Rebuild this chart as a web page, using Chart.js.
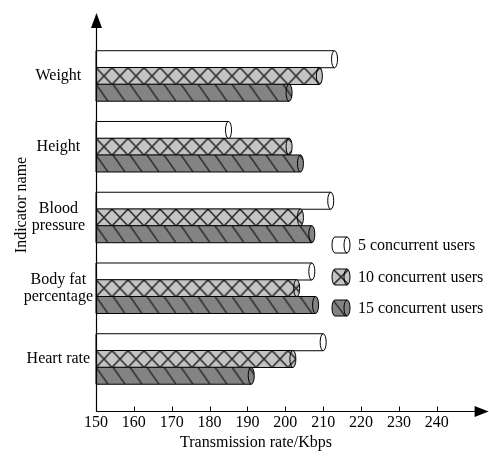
<!DOCTYPE html>
<html>
<head>
<meta charset="utf-8">
<script src="https://cdn.jsdelivr.net/npm/chart.js@4/dist/chart.umd.min.js"></script>
<style>
  html, body { margin: 0; padding: 0; background: #fff; }
</style>
</head>
<body>
<canvas id="chart" width="489" height="459"></canvas>
<script>
const categories = ["Weight", "Height", "Blood pressure", "Body fat percentage", "Heart rate"];
const categoryLines = [["Weight"], ["Height"], ["Blood", "pressure"], ["Body fat", "percentage"], ["Heart rate"]];
const users5 = [213, 185, 212, 207, 210];
const users10 = [209, 201, 204, 203, 202];
const users15 = [201, 204, 207, 208, 191];
const seriesNames = ["5 concurrent users", "10 concurrent users", "15 concurrent users"];
const xTicks = [150, 160, 170, 180, 190, 200, 210, 220, 230, 240];
const xTitle = "Transmission rate/Kbps";
const yTitle = "Indicator name";

const FONT = "'Liberation Serif', 'Times New Roman', serif";

function tile(w, h, bg, lines) {
    const c = document.createElement("canvas");
    c.width = w;
    c.height = h;
    const g = c.getContext("2d");
    g.fillStyle = bg;
    g.fillRect(0, 0, w, h);
    g.strokeStyle = "#353535";
    g.lineWidth = 1.6;
    lines.forEach((l) => {
        g.beginPath();
        g.moveTo(l[0], l[1]);
        g.lineTo(l[2], l[3]);
        g.stroke();
    });
    return c;
}

function fillFor(ctx, series, x0, top, h) {
    if (series === 0) return "#ffffff";
    let c;
    if (series === 1) {
        const w = 16;
        c = tile(w, h, "#c4c4c4", [[0, 0, w, h], [w, 0, 0, h]]);
    } else {
        const w = 17;
        c = tile(w, h, "#838383", [[-w, 0, -w + 12, h], [0, 0, 12, h], [w, 0, w + 12, h]]);
    }
    const pat = ctx.createPattern(c, "repeat");
    pat.setTransform(new DOMMatrix().translate(x0, top));
    return pat;
}

// bar drawn as a lying cylinder: straight body, elliptic cap at the value end
function cylinder(ctx, x0, x1, yc, h, fill, leftRx) {
    const rx = 3;
    const ry = h / 2;
    const top = yc - ry;
    const bot = yc + ry;
    ctx.beginPath();
    ctx.moveTo(x0, top);
    ctx.lineTo(x1, top);
    ctx.ellipse(x1, yc, rx, ry, 0, -Math.PI / 2, Math.PI / 2);
    ctx.lineTo(x0, bot);
    if (leftRx) {
        ctx.ellipse(x0, yc, leftRx, ry, 0, Math.PI / 2, Math.PI * 1.5);
    }
    ctx.closePath();
    ctx.fillStyle = fill;
    ctx.fill();
    ctx.stroke();
    ctx.beginPath();
    ctx.ellipse(x1, yc, rx, ry, 0, Math.PI / 2, Math.PI * 1.5);
    ctx.stroke();
}

const cylinderPlugin = {
    id: "cylinders",
    afterDatasetsDraw(chart) {
        const ctx = chart.ctx;
        ctx.save();
        ctx.strokeStyle = "#000";
        ctx.lineWidth = 1;
        chart.data.datasets.forEach((ds, i) => {
            chart.getDatasetMeta(i).data.forEach((bar) => {
                const h = Math.round(bar.height);
                const top = bar.y - h / 2;
                cylinder(ctx, bar.base, bar.x, bar.y, h, fillFor(ctx, i, bar.base, top, h), 0);
            });
        });
        ctx.restore();
    },
    afterDraw(chart) {
        const ctx = chart.ctx;
        const area = chart.chartArea;
        const xs = chart.scales.x;
        const left = area.left + 0.5;
        const bottom = area.bottom + 0.5;
        ctx.save();
        ctx.strokeStyle = "#000";
        ctx.fillStyle = "#000";
        ctx.lineWidth = 1.2;

        // y axis with arrow
        ctx.beginPath();
        ctx.moveTo(left, bottom);
        ctx.lineTo(left, area.top + 12);
        ctx.stroke();
        ctx.beginPath();
        ctx.moveTo(left, area.top);
        ctx.lineTo(left - 5.5, area.top + 15);
        ctx.lineTo(left + 5.5, area.top + 15);
        ctx.closePath();
        ctx.fill();

        // x axis with arrow
        ctx.beginPath();
        ctx.moveTo(left, bottom);
        ctx.lineTo(area.right + 2, bottom);
        ctx.stroke();
        ctx.beginPath();
        ctx.moveTo(area.right + 14, bottom);
        ctx.lineTo(area.right, bottom - 5.5);
        ctx.lineTo(area.right, bottom + 5.5);
        ctx.closePath();
        ctx.fill();

        // tick marks point up into the plot
        ctx.lineWidth = 1;
        xTicks.forEach((v) => {
            const px = Math.round(xs.getPixelForValue(v)) + 0.5;
            ctx.beginPath();
            ctx.moveTo(px, bottom);
            ctx.lineTo(px, bottom - 5);
            ctx.stroke();
        });

        // axis titles
        ctx.font = "16px " + FONT;
        ctx.textBaseline = "middle";
        ctx.textAlign = "center";
        ctx.fillText(xTitle, 256, 443);
        ctx.save();
        ctx.translate(22, 205);
        ctx.rotate(-Math.PI / 2);
        ctx.fillText(yTitle, 0, 0);
        ctx.restore();

        // legend
        const rows = [245, 277, 308];
        ctx.textAlign = "left";
        ctx.strokeStyle = "#000";
        seriesNames.forEach((name, i) => {
            const h = 16;
            const x0 = 335, x1 = 347;
            ctx.lineWidth = 1;
            cylinder(ctx, x0, x1, rows[i], h, fillFor(ctx, i, x0 - 2, rows[i] - h / 2, h), 3);
            ctx.fillStyle = "#000";
            ctx.fillText(name, 358, rows[i] + 1);
        });
        ctx.restore();
    }
};

function points(values) {
    return values.map((v, i) => ({ x: v, y: i }));
}

const hidden = { backgroundColor: "rgba(0,0,0,0)", borderWidth: 0, base: 150 };

new Chart(document.getElementById("chart").getContext("2d"), {
    type: "bar",
    data: {
        datasets: [
            Object.assign({ label: seriesNames[0], data: points(users5) }, hidden),
            Object.assign({ label: seriesNames[1], data: points(users10) }, hidden),
            Object.assign({ label: seriesNames[2], data: points(users15) }, hidden)
        ]
    },
    options: {
        indexAxis: "y",
        responsive: false,
        animation: false,
        categoryPercentage: 0.71,
        barPercentage: 1,
        layout: { padding: { top: 13, right: 14.4, bottom: 0, left: 0 } },
        plugins: {
            legend: { display: false },
            tooltip: { enabled: false }
        },
        scales: {
            x: {
                type: "linear",
                min: 150,
                max: 250,
                offset: false,
                afterBuildTicks: (s) => { s.ticks = xTicks.map((v) => ({ value: v })); },
                afterFit: (s) => { s.height = 48; },
                grid: { display: false, drawTicks: false },
                border: { display: false },
                ticks: { color: "#000", padding: 2, font: { family: FONT, size: 16 } }
            },
            y: {
                type: "linear",
                reverse: true,
                offset: false,
                min: -0.89,
                max: 4.735,
                afterBuildTicks: (s) => { s.ticks = categories.map((_, i) => ({ value: i })); },
                afterFit: (s) => { s.width = 96; },
                grid: { display: false, drawTicks: false },
                border: { display: false },
                ticks: {
                    color: "#000",
                    crossAlign: "center",
                    padding: 3,
                    autoSkip: false,
                    font: { family: FONT, size: 16, lineHeight: 1.05 },
                    callback: (v) => categoryLines[v]
                }
            }
        }
    },
    plugins: [cylinderPlugin]
});
</script>
</body>
</html>
